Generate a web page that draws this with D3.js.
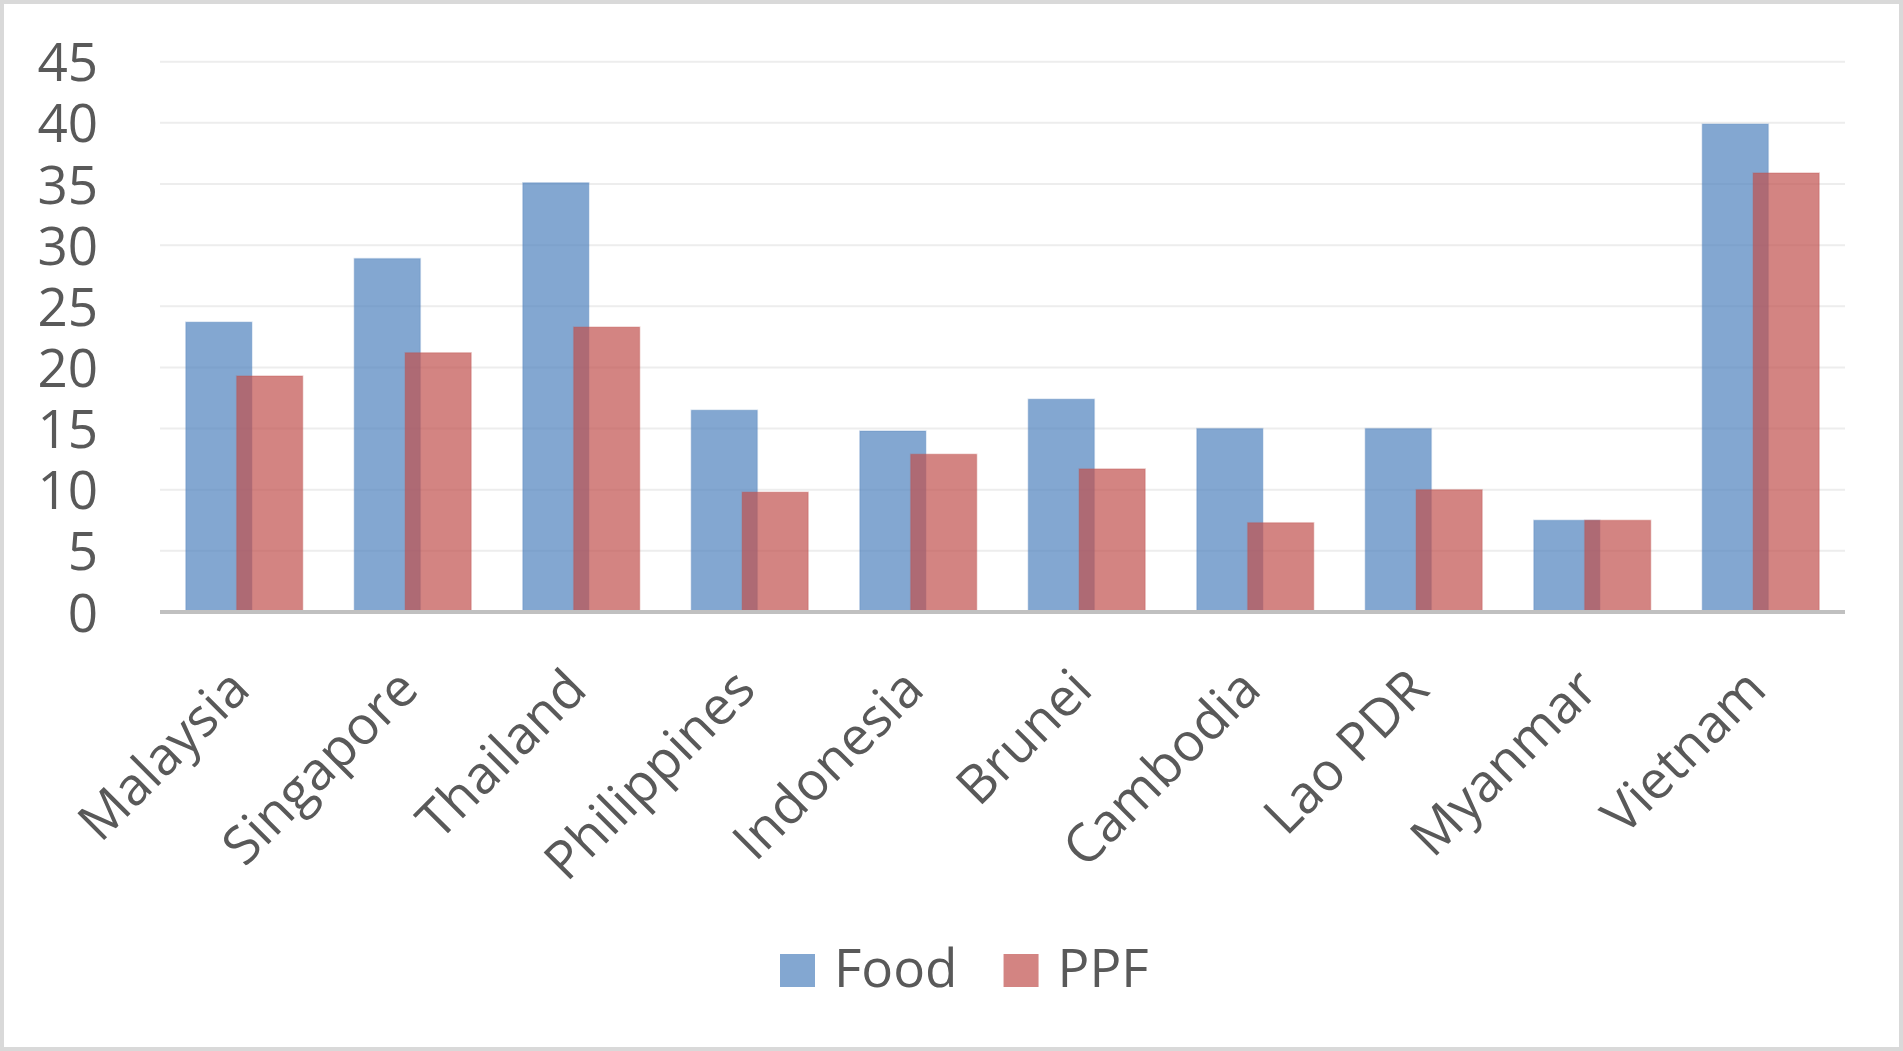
<!DOCTYPE html>
<html>
<head>
<meta charset="utf-8">
<script src="https://cdnjs.cloudflare.com/ajax/libs/d3/7.8.5/d3.min.js"></script>
<style>
  html, body { margin: 0; padding: 0; background: #fff; }
  svg { display: block; }
  text { font-family: "Open Sans", "Noto Sans", sans-serif; fill: #595959; }
</style>
</head>
<body>
<div id="chart"></div>
<script>
(function(){
  'use strict';

  // data
  var countries = ['Malaysia', 'Singapore', 'Thailand', 'Philippines', 'Indonesia',
                   'Brunei', 'Cambodia', 'Lao PDR', 'Myanmar', 'Vietnam'];
  var series = ['Food', 'PPF'];
  var food = [23.7, 28.9, 35.1, 16.5, 14.8, 17.4, 15.0, 15.0, 7.5, 39.9];
  var ppf  = [19.3, 21.2, 23.3, 9.8, 12.9, 11.7, 7.3, 10.0, 7.5, 35.9];
  var yTicks = [0, 5, 10, 15, 20, 25, 30, 35, 40, 45];

  var W = 1903, H = 1051,
      left = 160, right = 1845,
      top = 61.7, bottom = 612,
      colors = {Food: '#4f81bd', PPF: '#c0504d'};

  var svg = d3.select('#chart').append('svg')
    .attr('width', W)
    .attr('height', H);

  // chart border
  svg.append('rect')
    .attr('x', 2).attr('y', 2)
    .attr('width', W - 4).attr('height', H - 4)
    .style('fill', '#fff')
    .style('stroke', '#d9d9d9')
    .style('stroke-width', 4);

  var x0 = d3.scaleBand()
    .domain(countries)
    .range([left, right])
    .paddingInner(0)
    .paddingOuter(0);

  var y = d3.scaleLinear()
    .domain([0, 45])
    .range([bottom, top]);

  // gridlines
  svg.append('g')
    .selectAll('line')
    .data(yTicks.slice(1))
    .enter()
    .append('line')
    .attr('x1', left)
    .attr('x2', right)
    .attr('y1', function(d) { return y(d); })
    .attr('y2', function(d) { return y(d); })
    .style('stroke', '#ededed')
    .style('stroke-width', 2);

  // y axis labels
  var yAxis = d3.axisLeft(y)
    .tickValues(yTicks)
    .tickSize(0)
    .tickPadding(0);

  var gy = svg.append('g')
    .attr('transform', 'translate(98, 0)')
    .call(yAxis);
  gy.select('.domain').remove();
  gy.selectAll('text')
    .attr('dy', '0.36em')
    .style('font-size', '53px')
    .style('fill', '#595959');

  // bars
  var bw = x0.bandwidth(),
      barW = bw * 0.392,
      overlap = 0.23,
      span = barW * (2 - overlap),
      start = (bw - span) / 2;

  var rows = countries.map(function(c, i) {
    return {country: c, Food: food[i], PPF: ppf[i]};
  });

  series.forEach(function(s, si) {
    svg.append('g')
      .selectAll('rect')
      .data(rows)
      .enter()
      .append('rect')
      .attr('x', function(d) { return x0(d.country) + start + si * barW * (1 - overlap); })
      .attr('y', function(d) { return y(d[s]); })
      .attr('width', barW)
      .attr('height', function(d) { return y(0) - y(d[s]); })
      .style('fill', colors[s])
      .style('fill-opacity', 0.7)
      .style('stroke', colors[s])
      .style('stroke-opacity', 0.25)
      .style('stroke-width', 1.5);
  });

  // x axis line
  svg.append('line')
    .attr('x1', left)
    .attr('x2', right)
    .attr('y1', y(0))
    .attr('y2', y(0))
    .style('stroke', '#c0c0c0')
    .style('stroke-width', 4);

  var xAxis = d3.axisBottom(x0)
    .tickSize(0)
    .tickPadding(0);

  var gx = svg.append('g')
    .attr('transform', 'translate(0,' + y(0) + ')')
    .call(xAxis);
  gx.select('.domain').remove();
  gx.selectAll('text')
    .attr('y', 0)
    .attr('dy', 0)
    .attr('text-anchor', 'end')
    .attr('transform', 'translate(8, 80) rotate(-45)')
    .style('font-size', '53px')
    .style('fill', '#595959');

  // legend
  var lx = 780;
  series.forEach(function(s) {
    svg.append('rect')
      .attr('x', lx).attr('y', 954)
      .attr('width', 35).attr('height', 33)
      .style('fill', colors[s])
      .style('fill-opacity', 0.7);
    var t = svg.append('text')
      .attr('x', lx + 54)
      .attr('y', 987)
      .style('font-size', '53px')
      .text(s);
    lx = lx + 54 + t.node().getComputedTextLength() + 46;
  });

}());
</script>
</body>
</html>
